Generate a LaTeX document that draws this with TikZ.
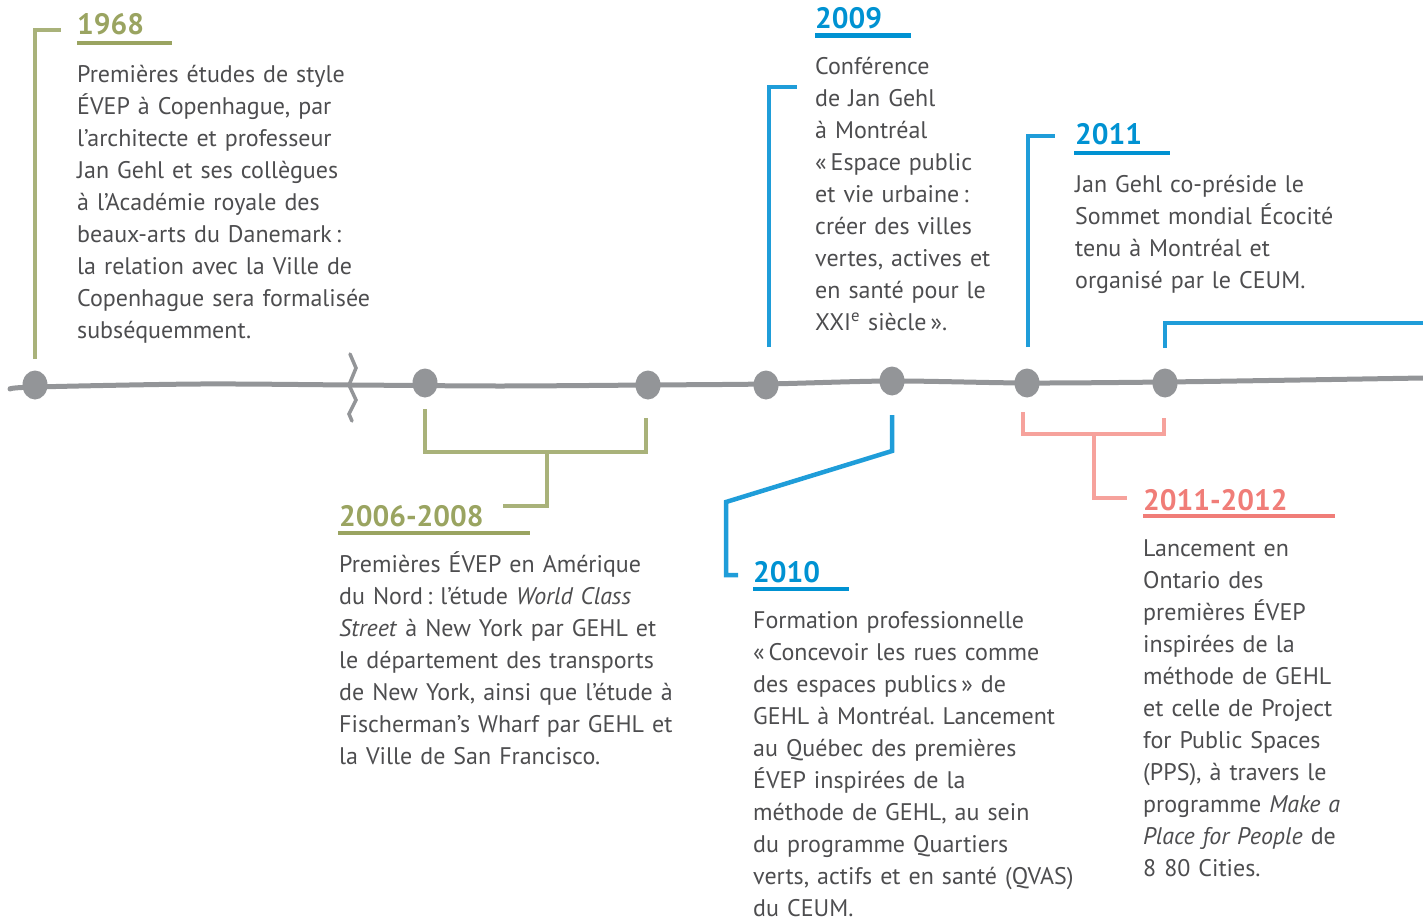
\documentclass[tikz,border=0pt]{standalone}
\usepackage{fontspec}
\setmainfont{PT Sans}
\usetikzlibrary{shapes.geometric}
\definecolor{txt}{HTML}{4D4D4F}
\definecolor{gline}{HTML}{939598}
\definecolor{grn}{HTML}{A9B27A}
\definecolor{grnh}{HTML}{9AA461}
\definecolor{blu}{HTML}{1F9DD9}
\definecolor{bluh}{HTML}{0092D2}
\definecolor{pnk}{HTML}{F6A29C}
\definecolor{pnkh}{HTML}{F07D78}
\tikzset{
  body/.style={anchor=base west, inner sep=0pt, text=txt, text width=360pt, align=left,
    font=\fontsize{24}{32}\selectfont\frenchspacing},
  year/.style={anchor=base west, inner sep=0pt, font=\fontsize{29.5}{36}\selectfont\bfseries},
  dot/.style={ellipse, fill=gline, minimum width=25pt, minimum height=29pt, inner sep=0pt},
  brk/.style={line width=4.5pt},
  uline/.style={line width=4.5pt},
}
\begin{document}
\begin{tikzpicture}[x=1pt,y=-1pt]
\useasboundingbox (0,0) rectangle (1423,920);
% timeline
\draw[gline, line width=5pt, line cap=round] plot[smooth] coordinates {(10,389) (35,387) (200,384) (352,385) (500,386) (648,385) (766,384) (892,381) (1027,383) (1165,382) (1300,380) (1423,378)};
\draw[gline, line width=3.5pt, line cap=round] (350,354) -- (356,368) -- (349,385) -- (356,400) -- (349,414) -- (352,421);
\node[dot] (d1) at (35,385) {};
\node[dot] (d2) at (425,383) {};
\node[dot] (d3) at (648,385) {};
\node[dot] (d4) at (766,385) {};
\node[dot] (d5) at (892,381) {};
\node[dot] (d6) at (1027,383) {};
\node[dot] (d7) at (1165,383) {};

% 1968
\coordinate (a1) at (35,359);
\coordinate (a2) at (61,30);
\draw[grn, brk] (a1) |- (a2);
\node[year, text=grnh] (y1968) at (77,35) {1968};
\coordinate (u1a) at (77,43); \coordinate (u1b) at (172,43);
\draw[grnh, uline] (u1a) -- (u1b);
\node[body] (t1968) at (77,83) {Premières études de style\\ÉVEP à Copenhague, par\\l’architecte et professeur\\Jan Gehl et ses collègues\\à l’Académie royale des\\beaux-arts du Danemark\,:\\la relation avec la Ville de\\Copenhague sera formalisée\\subséquemment.};

% 2006-2008
\coordinate (b1) at (425,409); \coordinate (b2) at (646,418);
\coordinate (bm) at (547,452); \coordinate (b3) at (503,506);
\draw[grn, brk] (b1) -- (425,452) -- (646,452) -- (b2);
\draw[grn, brk] (bm) |- (b3);
\node[year, text=grnh] (y2006) at (339,526) {2006-2008};
\coordinate (u2a) at (338,533); \coordinate (u2b) at (530,533);
\draw[grnh, uline] (u2a) -- (u2b);
\node[body] (t2006) at (339,572) {Premières ÉVEP en Amérique\\du Nord\,: l’étude \textit{World Class}\\\textit{Street} à New York par GEHL et\\le département des transports\\de New York, ainsi que l’étude à\\Fischerman’s Wharf par GEHL et\\la Ville de San Francisco.};

% 2009
\coordinate (c1) at (769,347); \coordinate (c2) at (797,87);
\draw[blu, brk] (c1) |- (c2);
\node[year, text=bluh] (y2009) at (815,29) {2009};
\coordinate (u3a) at (815,35.5); \coordinate (u3b) at (911,35.5);
\draw[bluh, uline] (u3a) -- (u3b);
\node[body] (t2009) at (815,75) {Conférence\\de Jan Gehl\\à Montréal\\«\,Espace public\\et vie urbaine\,:\\créer des villes\\vertes, actives et\\en santé pour le\\XXI\textsuperscript{e} siècle\,».};

% 2010
\coordinate (e1) at (892,415); \coordinate (e2) at (738,575);
\draw[blu, brk] (e1) -- (892,451) -- (726,502) |- (e2);
\node[year, text=bluh] (y2010) at (753,582) {2010};
\coordinate (u4a) at (753,589); \coordinate (u4b) at (849,589);
\draw[bluh, uline] (u4a) -- (u4b);
\node[body] (t2010) at (753,628) {Formation professionnelle\\«\,Concevoir les rues comme\\des espaces publics\,» de\\GEHL à Montréal. Lancement\\au Québec des premières\\ÉVEP inspirées de la\\méthode de GEHL, au sein\\du programme Quartiers\\verts, actifs et en santé (QVAS)\\du CEUM.};

% 2011
\coordinate (f1) at (1028,347); \coordinate (f2) at (1055,136);
\draw[blu, brk] (f1) |- (f2);
\node[year, text=bluh] (y2011) at (1075,145) {2011};
\coordinate (u5a) at (1074,153); \coordinate (u5b) at (1170,153);
\draw[bluh, uline] (u5a) -- (u5b);
\node[body] (t2011) at (1075,193) {Jan Gehl co-préside le\\Sommet mondial Écocité\\tenu à Montréal et\\organisé par le CEUM.};

% continuation
\coordinate (g1) at (1165,348); \coordinate (g2) at (1423,323);
\draw[blu, brk] (g1) |- (g2);

% 2011-2012
\coordinate (h1) at (1023,412); \coordinate (h2) at (1164,418);
\coordinate (hm) at (1094,434); \coordinate (h3) at (1127,498);
\draw[pnk, brk] (h1) -- (1023,434) -- (1164,434) -- (h2);
\draw[pnk, brk] (hm) |- (h3);
\node[year, text=pnkh] (y2012) at (1143,510) {2011-2012};
\coordinate (u6a) at (1143,516); \coordinate (u6b) at (1335,516);
\draw[pnkh, uline] (u6a) -- (u6b);
\node[body] (t2012) at (1143,556) {Lancement en\\Ontario des\\premières ÉVEP\\inspirées de la\\méthode de GEHL\\et celle de Project\\for Public Spaces\\(PPS), à travers le\\programme \textit{Make a}\\\textit{Place for People} de\\8 80 Cities.};
\end{tikzpicture}
\end{document}
